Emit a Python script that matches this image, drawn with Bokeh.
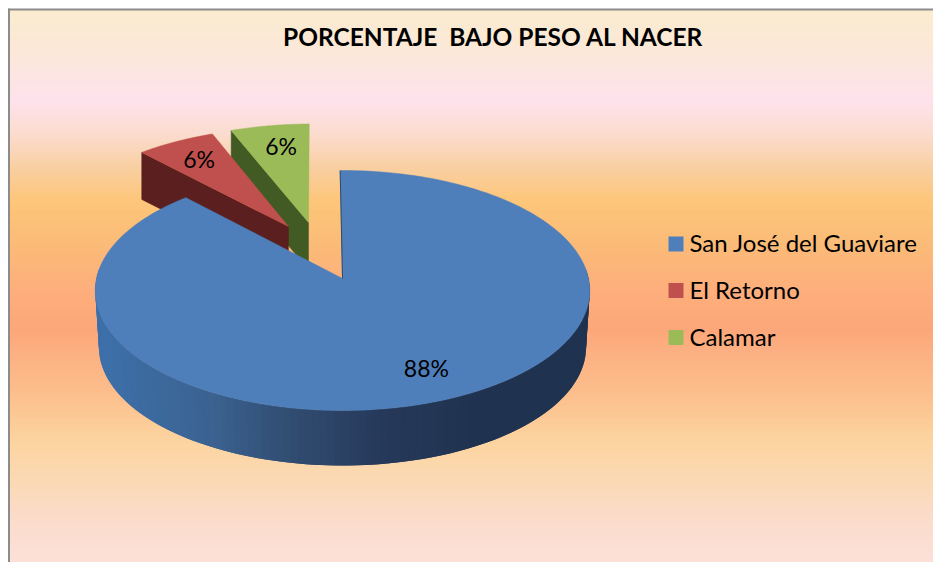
import numpy as np
from bokeh.plotting import figure
from bokeh.models import Range1d
from bokeh.core.properties import value
from bokeh.embed import file_html
from bokeh.resources import INLINE

# ---- chart content ----
title = "PORCENTAJE\u00a0 BAJO PESO AL NACER"
categories = ["San José del Guaviare", "El Retorno", "Calamar"]
values = [88.2, 5.9, 5.9]
top_colors = ["#4e7fbb", "#c0504d", "#9bbb59"]
cut_colors = [None, "#5a1f1e", "#425a24"]

# ---- layout / style ----
FONT = "Lato"
CX, CY = 342.0, 278.0     # pie origin on the page
RX, RY, PERSP = 246.0, 118.8, 0.1
START = -0.6              # first slice angle, degrees clockwise from top
explode = [(0.0, 0.0), (-0.23, 0.457), (-0.145, 0.495)]
DEPTH, LOWER_SCALE, CUT_DEPTH = 57.0, 0.985, 47.0
LABEL_F = 0.77
label_dx = [8, -1, 3]
label_dy = [-2, -1, 0]

bg_y = [8, 50, 100, 133, 167, 200, 240, 290, 330, 350, 390, 440, 480, 520, 562]
bg_c = ["#fbecce", "#fbe8d8", "#fde2ec", "#fbdccf", "#f9cfa2", "#fdc67a", "#fbbc78",
        "#fdae7c", "#fca77a", "#fcaf82", "#fcbd8b", "#fcd49f", "#fbd9b4", "#fbdccc", "#fce0d8"]
side_x = [100, 213, 280, 380, 480, 590]
side_c = ["#3d70aa", "#3b628f", "#324f75", "#26395a", "#1f3350", "#1f3350"]


def rgb(h):
    return [int(h[i:i + 2], 16) for i in (1, 3, 5)]


def ramp(pos, stops, colors):
    arr = np.array([rgb(c) for c in colors], float)
    out = np.stack([np.interp(pos, stops, arr[:, i]) for i in range(3)], axis=1)
    return ["#%02x%02x%02x" % tuple(int(round(c)) for c in row) for row in out]


def project(u, v, scale=1.0, dy=0.0):
    u, v = np.asarray(u, float), np.asarray(v, float)
    d = 1 + PERSP * v
    return CX + scale * RX * u / d, CY + dy - scale * RY * v / d


def circle(deg):
    a = np.radians(deg)
    return np.sin(a), np.cos(a)


p = figure(width=933, height=562, x_range=Range1d(0, 933), y_range=Range1d(562, 0),
           toolbar_location=None, output_backend="svg", min_border=0,
           background_fill_color="#ffffff", border_fill_color="#ffffff", outline_line_color=None)
p.axis.visible = False
p.grid.visible = False

# background gradient (bands overlap so no seams show)
ys = np.arange(9, 562)
p.quad(left=9, right=933, top=ys, bottom=np.minimum(ys + 2, 562), fill_color=ramp(ys + 0.5, bg_y, bg_c), line_color=None)
# frame
p.segment(x0=[8.5, 8], y0=[8, 9], x1=[8.5, 933], y1=[562, 9], line_color="#8c8c8c", line_width=2)

# slice angles
shares = np.array(values) / sum(values) * 360
ends = START + np.cumsum(shares)
starts = ends - shares

# exploded small slices, back to front
for i in (2, 1):
    ox, oy = explode[i]
    u0, v0 = circle(starts[i])
    ax, ay = project(ox, oy)
    bx, by = project(ox + u0, oy + v0)
    p.patch([ax, bx, bx, ax], [ay, by, by + CUT_DEPTH, ay + CUT_DEPTH],
            fill_color=cut_colors[i], line_color=cut_colors[i], line_width=0.5)
    t = np.linspace(starts[i], ends[i], 40)
    cu, cv = circle(t)
    x, y = project(ox + cu, oy + cv)
    p.patch(np.r_[ax, x], np.r_[ay, y], fill_color=top_colors[i], line_color=top_colors[i], line_width=0.5)

# large slice: curved side as shaded strips, painted with overlap from the right
t = np.linspace(85, 275, 121)
cu, cv = circle(t)
ux, uy = project(cu, cv)
lx, ly = project(cu, cv, LOWER_SCALE, DEPTH)
n = len(t)
idx = [min(k + 2, n - 1) for k in range(n - 1)]
strip_x = [[ux[k], ux[j], lx[j], lx[k]] for k, j in zip(range(n - 1), idx)]
strip_y = [[uy[k], uy[j], ly[j], ly[k]] for k, j in zip(range(n - 1), idx)]
strip_c = ramp((ux[:-1] + ux[1:]) / 2, side_x, side_c)
p.patches(strip_x, strip_y, fill_color=strip_c, line_color=None)

# large slice: top face
t = np.linspace(starts[0], ends[0], 240)
cu, cv = circle(t)
x, y = project(cu, cv)
ax, ay = project(0, 0)
p.patch(np.r_[ax, x], np.r_[ay, y], fill_color=top_colors[0], line_color=top_colors[0], line_width=0.5)
p.line([x[0], ax], [y[0], ay], line_color="#2f4a6e", line_width=1)

# percentage labels
for i, v in enumerate(values):
    mid = (starts[i] + ends[i]) / 2
    cu, cv = circle(mid)
    ox, oy = explode[i]
    lxp, lyp = project(ox + LABEL_F * cu, oy + LABEL_F * cv)
    p.text([float(lxp) + label_dx[i]], [float(lyp) + label_dy[i]], text=[f"{round(v)}%"], text_font=value(FONT),
           text_font_size="23px", text_color="#000000", text_align="center", text_baseline="middle")

# title
p.text([493], [36], text=[title], text_font=value(FONT), text_font_style="bold",
       text_font_size="24.5px", text_color="#000000", text_align="center", text_baseline="middle")

# legend
leg_y = [243.5, 290, 337]
for cat, col, ly_ in zip(categories, top_colors, leg_y):
    p.quad(left=[668], right=[683], top=[ly_ - 7.5], bottom=[ly_ + 7.5], fill_color=col, line_color=None)
    p.text([689], [ly_ - 1.5], text=[cat], text_font=value(FONT), text_font_size="24px",
           text_color="#000000", text_align="left", text_baseline="middle")

open("out.html", "w").write(file_html(p, INLINE))
